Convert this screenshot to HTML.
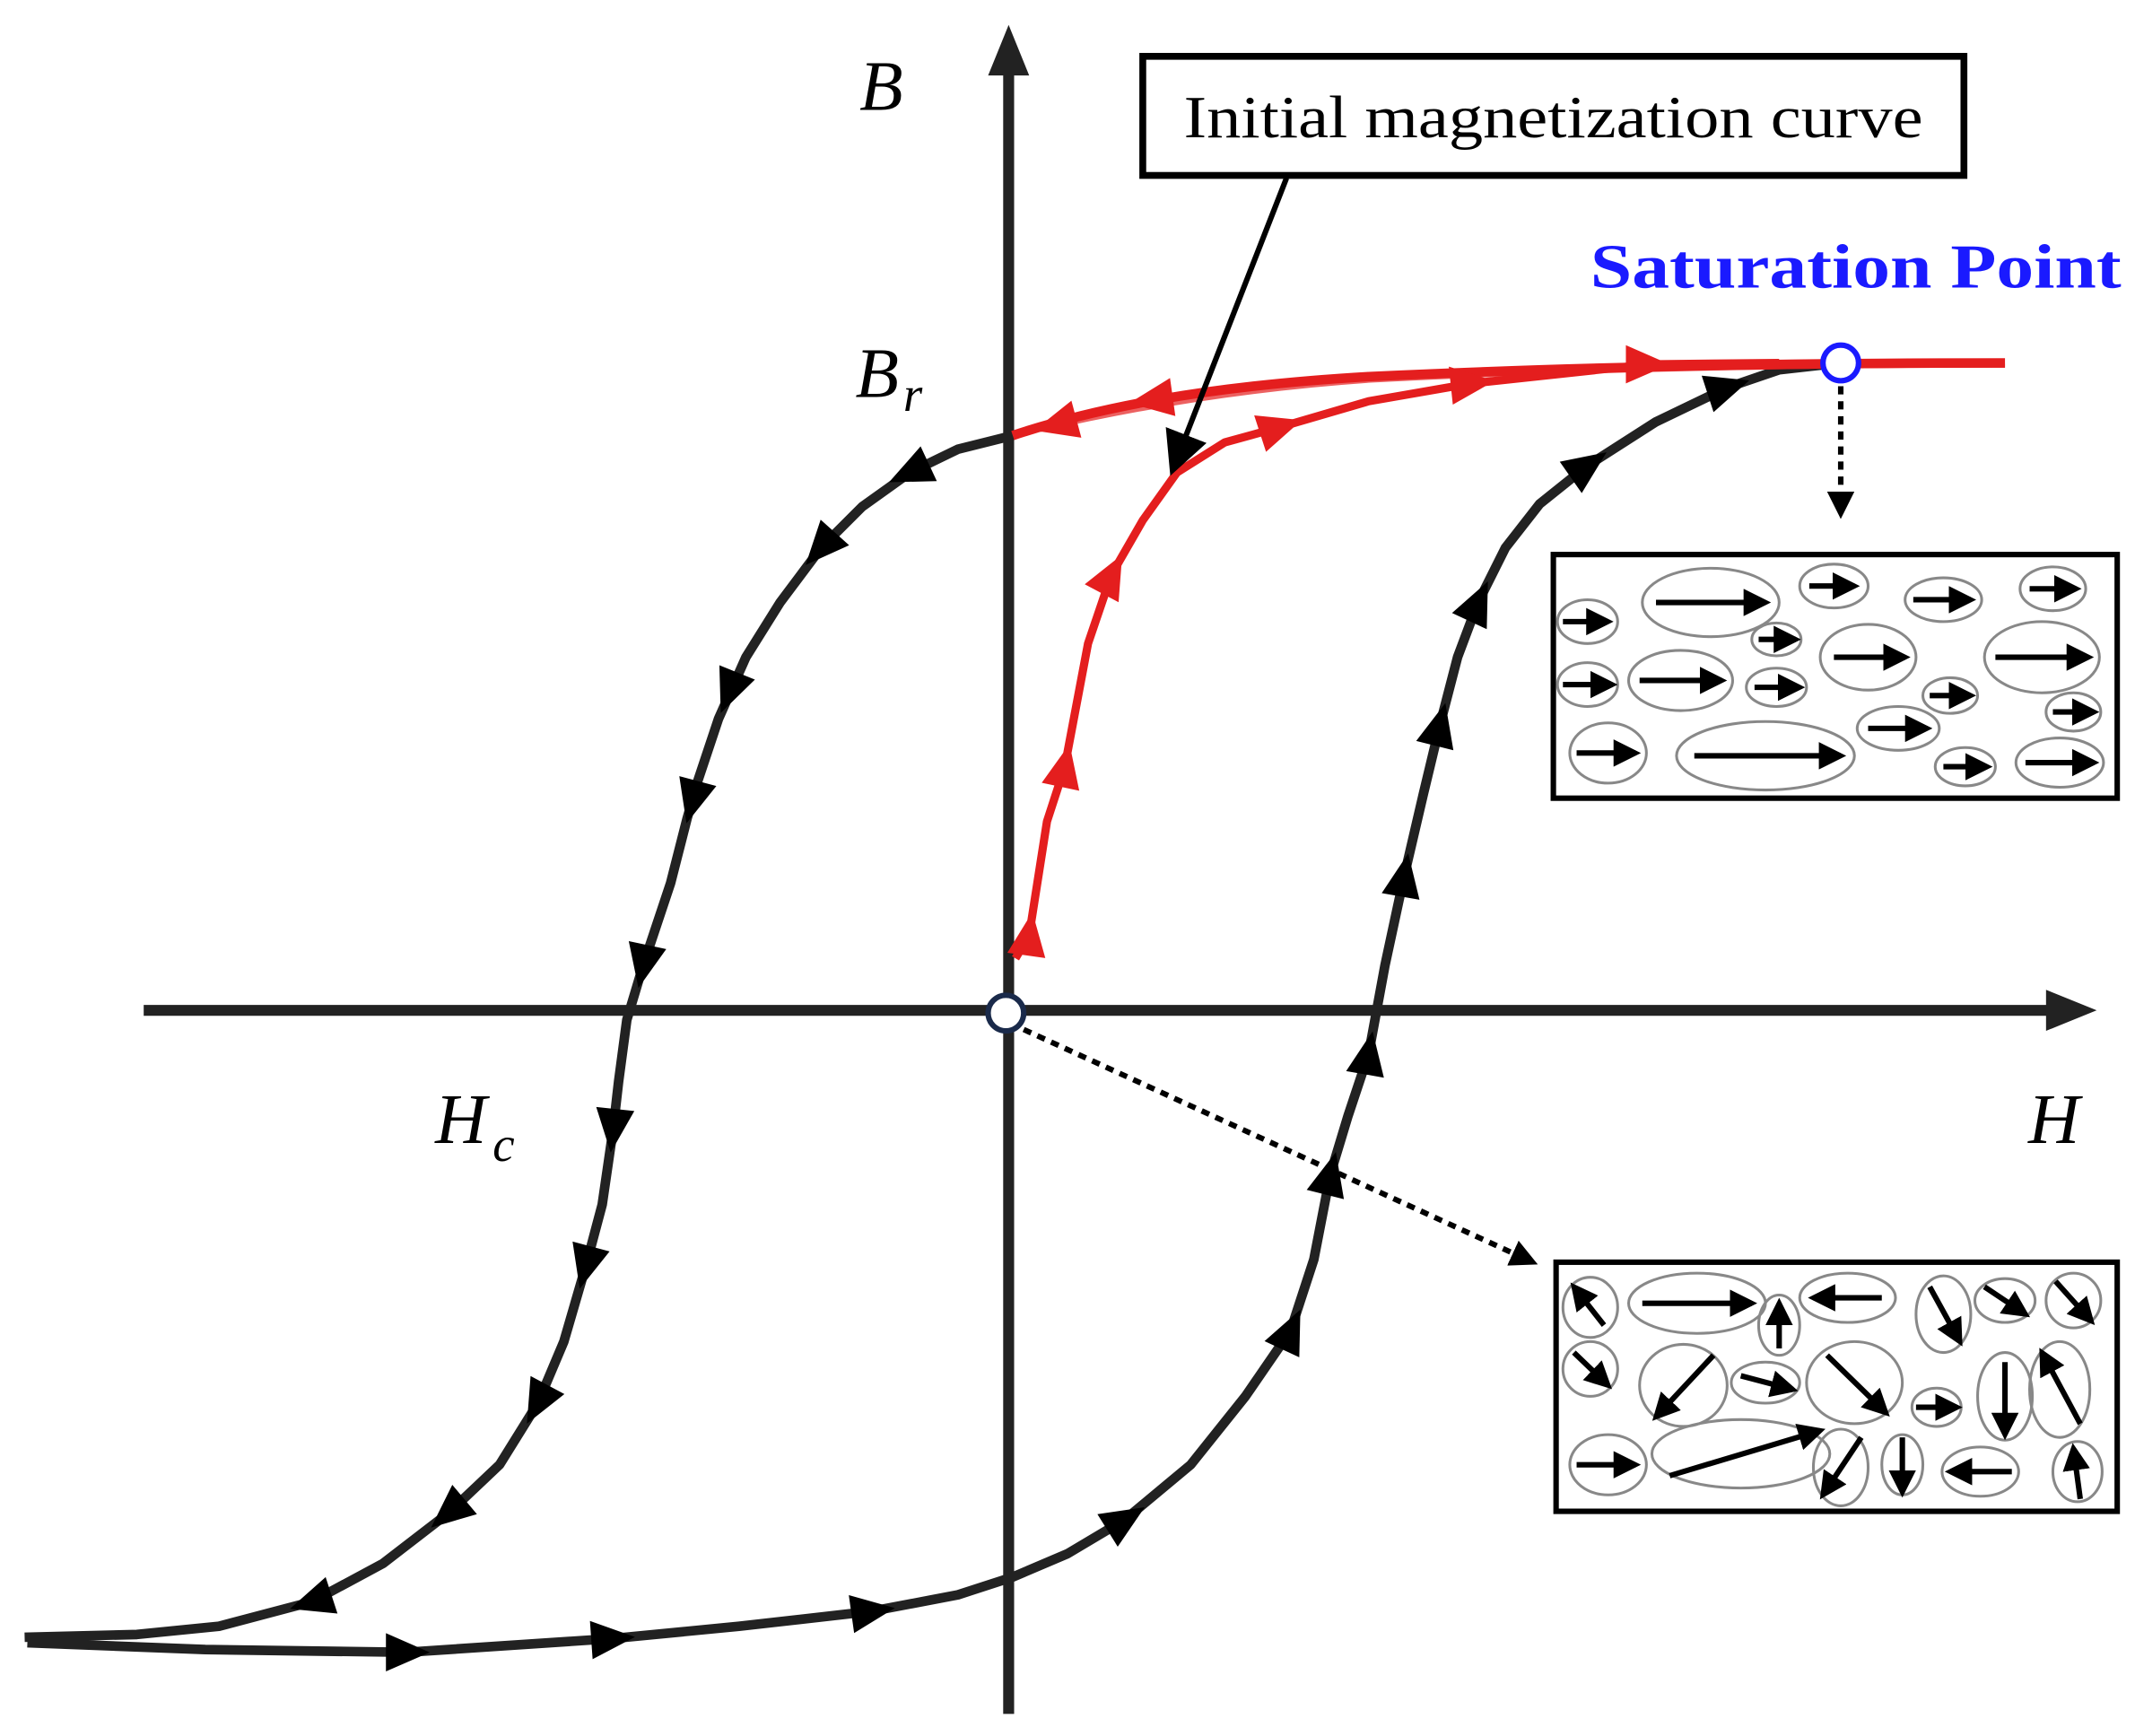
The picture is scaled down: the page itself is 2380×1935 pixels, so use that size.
<!DOCTYPE html>
<html><head><meta charset="utf-8"><style>
html,body{margin:0;padding:0;background:#fff;}
svg{display:block;}
text{font-family:"Liberation Serif",serif;}
</style></head><body>
<svg width="2380" height="1935" viewBox="0 0 1560 1268" xmlns="http://www.w3.org/2000/svg">
<defs>
<path id="tri" d="M -15 -14 L 17 0 L -15 14 Z"/>
<marker id="ah" markerWidth="8" markerHeight="8" refX="6" refY="4" orient="auto" markerUnits="strokeWidth"><path d="M0,0 L8,4 L0,8 Z" fill="#000"/></marker>
<marker id="ahs" markerWidth="5" markerHeight="5" refX="4" refY="2.5" orient="auto" markerUnits="strokeWidth"><path d="M0,0 L5,2.5 L0,5 Z" fill="#000"/></marker>
</defs>
<rect width="1560" height="1268" fill="#fff"/>
<!-- axes -->
<line x1="737" y1="1252" x2="737" y2="45" stroke="#222" stroke-width="8"/>
<path d="M737 18 L722 55 L752 55 Z" fill="#222"/>
<line x1="105" y1="738" x2="1505" y2="738" stroke="#222" stroke-width="8"/>
<path d="M1532 738 L1495 723 L1495 753 Z" fill="#222"/>
<!-- black loop -->
<polyline points="740,318 700,328 665,345 630,370 600,400 570,440 545,480 525,525 510,570 502,598 490,645 470,705 458,745 452,790 448,825 440,880 428,925 412,980 393,1025 365,1070 328,1105 280,1142 228,1170 160,1188 100,1194 18,1196" fill="none" stroke="#222" stroke-width="7" stroke-linejoin="round"/>
<polyline points="20,1200 150,1205 297,1207 447,1197 540,1188 637,1177 700,1165 740,1152 780,1135 822,1110 870,1070 910,1020 943,972 960,920 972,858 985,815 1000,770 1012,705 1026,640 1040,580 1052,530 1065,480 1080,440 1100,400 1125,368 1160,340 1210,308 1262,283 1300,270 1345,265" fill="none" stroke="#222" stroke-width="7" stroke-linejoin="round"/>
<!-- red -->
<path d="M1465 265 C1300 265 1150 268 1000 275 C880 282 800 298 740 318" fill="none" stroke="#e41e1e" stroke-width="7"/>
<path d="M1465 267 C1300 267 1150 270 1000 278 C900 285 820 300 760 314" fill="none" stroke="#e41e1e" stroke-width="3" opacity="0.7"/>
<polyline points="742,700 752,683 765,600 778,560 795,470 812,420 835,380 860,345 895,323 935,312 1000,293 1075,280 1205,266 1300,265" fill="none" stroke="#e41e1e" stroke-width="6" stroke-linejoin="round"/>
<!-- black arrowheads -->
<g fill="#000">
<use href="#tri" transform="translate(665,345) rotate(155)"/>
<use href="#tri" transform="translate(600,400) rotate(132)"/>
<use href="#tri" transform="translate(533,505) rotate(112)"/>
<use href="#tri" transform="translate(506,585) rotate(105)"/>
<use href="#tri" transform="translate(470,705) rotate(102)"/>
<use href="#tri" transform="translate(448,825) rotate(96)"/>
<use href="#tri" transform="translate(428,925) rotate(105)"/>
<use href="#tri" transform="translate(393,1025) rotate(118)"/>
<use href="#tri" transform="translate(328,1105) rotate(140)"/>
<use href="#tri" transform="translate(228,1170) rotate(162)"/>
<use href="#tri" transform="translate(297,1207) rotate(0)"/>
<use href="#tri" transform="translate(447,1197) rotate(-4)"/>
<use href="#tri" transform="translate(637,1177) rotate(-8)"/>
<use href="#tri" transform="translate(822,1110) rotate(-32)"/>
<use href="#tri" transform="translate(943,972) rotate(-65)"/>
<use href="#tri" transform="translate(972,858) rotate(-76)"/>
<use href="#tri" transform="translate(1000,770) rotate(-80)"/>
<use href="#tri" transform="translate(1026,640) rotate(-80)"/>
<use href="#tri" transform="translate(1052,530) rotate(-76)"/>
<use href="#tri" transform="translate(1080,440) rotate(-65)"/>
<use href="#tri" transform="translate(1160,340) rotate(-35)"/>
<use href="#tri" transform="translate(1262,283) rotate(-18)"/>
</g>
<g fill="#e41e1e">
<use href="#tri" transform="translate(752,683) rotate(-82)"/>
<use href="#tri" transform="translate(778,560) rotate(-78)"/>
<use href="#tri" transform="translate(812,420) rotate(-62)"/>
<use href="#tri" transform="translate(935,312) rotate(-18)"/>
<use href="#tri" transform="translate(1075,280) rotate(-6)"/>
<use href="#tri" transform="translate(1203,266) rotate(0)"/>
<use href="#tri" transform="translate(772,310) rotate(165)"/>
<use href="#tri" transform="translate(842,292) rotate(172)"/>
</g>
<!-- labels -->
<text x="628" y="80" font-size="52" font-style="italic">B</text>
<text x="625" y="290" font-size="52" font-style="italic">B</text><text x="660" y="300" font-size="36" font-style="italic">r</text>
<text x="318" y="835" font-size="52" font-style="italic">H</text><text x="360" y="848" font-size="36" font-style="italic">c</text>
<text x="1482" y="835" font-size="52" font-style="italic">H</text>
<text x="1162" y="210" font-size="46" font-weight="bold" fill="#1a1aff" textLength="388" lengthAdjust="spacingAndGlyphs">Saturation Point</text>
<!-- initial box -->
<rect x="835" y="41" width="600" height="87" fill="#fff" stroke="#000" stroke-width="5"/>
<text x="865" y="100" font-size="44" textLength="540" lengthAdjust="spacingAndGlyphs">Initial magnetization curve</text>
<line x1="940" y1="130" x2="858" y2="340" stroke="#000" stroke-width="4" marker-end="url(#ah)"/>
<!-- dotted -->
<line x1="1345" y1="282" x2="1345" y2="375" stroke="#000" stroke-width="4" stroke-dasharray="6 5" marker-end="url(#ahs)"/>
<line x1="748" y1="752" x2="1120" y2="922" stroke="#000" stroke-width="4" stroke-dasharray="6 5" marker-end="url(#ahs)"/>
<!-- points -->
<circle cx="1345" cy="265" r="13" fill="#fff" stroke="#1a1aff" stroke-width="4"/>
<circle cx="735" cy="740" r="13" fill="#fff" stroke="#1a2a4a" stroke-width="4"/>
<!-- box 1 -->
<rect x="1135" y="405" width="412" height="178" fill="#fff" stroke="#000" stroke-width="4"/>
<g fill="none" stroke="#888" stroke-width="2">
<ellipse cx="1160" cy="454" rx="22" ry="16"/><ellipse cx="1250" cy="440" rx="50" ry="25"/><ellipse cx="1340" cy="428" rx="25" ry="16"/><ellipse cx="1420" cy="438" rx="28" ry="16"/><ellipse cx="1500" cy="430" rx="24" ry="16"/>
<ellipse cx="1298" cy="467" rx="18" ry="12"/><ellipse cx="1365" cy="480" rx="35" ry="24"/><ellipse cx="1492" cy="480" rx="42" ry="26"/>
<ellipse cx="1160" cy="500" rx="22" ry="16"/><ellipse cx="1228" cy="497" rx="38" ry="22"/><ellipse cx="1298" cy="502" rx="22" ry="14"/><ellipse cx="1425" cy="508" rx="20" ry="13"/><ellipse cx="1515" cy="520" rx="20" ry="14"/>
<ellipse cx="1175" cy="550" rx="28" ry="22"/><ellipse cx="1290" cy="552" rx="65" ry="25"/><ellipse cx="1387" cy="532" rx="30" ry="16"/><ellipse cx="1436" cy="560" rx="22" ry="14"/><ellipse cx="1505" cy="557" rx="32" ry="18"/>
</g>
<g stroke="#000" stroke-width="4" marker-end="url(#ahs)">
<line x1="1142" y1="454" x2="1175" y2="454"/><line x1="1210" y1="440" x2="1290" y2="440"/><line x1="1322" y1="428" x2="1355" y2="428"/><line x1="1398" y1="438" x2="1440" y2="438"/><line x1="1483" y1="430" x2="1517" y2="430"/>
<line x1="1285" y1="467" x2="1312" y2="467"/><line x1="1340" y1="480" x2="1392" y2="480"/><line x1="1458" y1="480" x2="1526" y2="480"/>
<line x1="1142" y1="500" x2="1178" y2="500"/><line x1="1198" y1="497" x2="1258" y2="497"/><line x1="1282" y1="502" x2="1315" y2="502"/><line x1="1410" y1="508" x2="1440" y2="508"/><line x1="1500" y1="520" x2="1530" y2="520"/>
<line x1="1152" y1="550" x2="1195" y2="550"/><line x1="1238" y1="552" x2="1345" y2="552"/><line x1="1365" y1="532" x2="1408" y2="532"/><line x1="1420" y1="560" x2="1452" y2="560"/><line x1="1480" y1="557" x2="1530" y2="557"/>
</g>
<!-- box 2 -->
<rect x="1137" y="922" width="410" height="182" fill="#fff" stroke="#000" stroke-width="4"/>
<g fill="none" stroke="#888" stroke-width="2">
<ellipse cx="1162" cy="955" rx="20" ry="22"/><ellipse cx="1240" cy="952" rx="50" ry="22"/><ellipse cx="1350" cy="948" rx="35" ry="18"/><ellipse cx="1420" cy="960" rx="20" ry="28"/><ellipse cx="1465" cy="950" rx="22" ry="16"/><ellipse cx="1515" cy="950" rx="20" ry="20"/>
<ellipse cx="1300" cy="968" rx="15" ry="22"/><ellipse cx="1162" cy="1000" rx="20" ry="20"/><ellipse cx="1230" cy="1012" rx="32" ry="30"/><ellipse cx="1290" cy="1010" rx="25" ry="15"/><ellipse cx="1355" cy="1010" rx="35" ry="30"/><ellipse cx="1415" cy="1028" rx="18" ry="14"/><ellipse cx="1465" cy="1020" rx="20" ry="32"/><ellipse cx="1505" cy="1015" rx="22" ry="35"/>
<ellipse cx="1175" cy="1070" rx="28" ry="22"/><ellipse cx="1272" cy="1062" rx="65" ry="25"/><ellipse cx="1345" cy="1072" rx="20" ry="28"/><ellipse cx="1390" cy="1070" rx="15" ry="22"/><ellipse cx="1447" cy="1075" rx="28" ry="18"/><ellipse cx="1518" cy="1075" rx="18" ry="22"/>
</g>
<g stroke="#000" stroke-width="4" marker-end="url(#ahs)">
<line x1="1172" y1="968" x2="1150" y2="940"/><line x1="1200" y1="952" x2="1280" y2="952"/><line x1="1375" y1="948" x2="1325" y2="948"/><line x1="1410" y1="940" x2="1432" y2="980"/><line x1="1450" y1="940" x2="1480" y2="960"/><line x1="1502" y1="936" x2="1528" y2="965"/>
<line x1="1300" y1="985" x2="1300" y2="952"/><line x1="1150" y1="988" x2="1175" y2="1012"/><line x1="1252" y1="990" x2="1210" y2="1035"/><line x1="1272" y1="1005" x2="1310" y2="1015"/><line x1="1335" y1="990" x2="1378" y2="1032"/><line x1="1400" y1="1028" x2="1430" y2="1028"/><line x1="1465" y1="995" x2="1465" y2="1048"/><line x1="1520" y1="1040" x2="1492" y2="988"/>
<line x1="1152" y1="1070" x2="1195" y2="1070"/><line x1="1220" y1="1078" x2="1330" y2="1045"/><line x1="1360" y1="1050" x2="1332" y2="1092"/><line x1="1390" y1="1050" x2="1390" y2="1090"/><line x1="1470" y1="1075" x2="1425" y2="1075"/><line x1="1520" y1="1095" x2="1515" y2="1058"/>
</g>
</svg>
</body></html>
